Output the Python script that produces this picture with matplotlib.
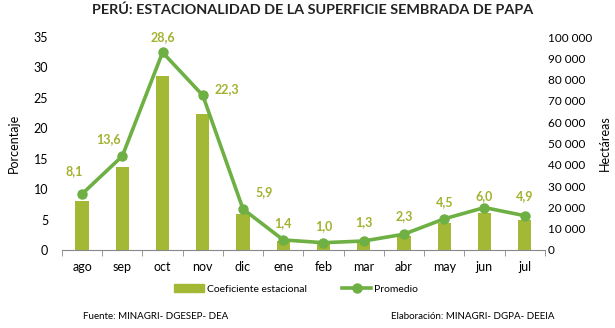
import matplotlib.pyplot as plt
import numpy as np
from matplotlib.lines import Line2D
from matplotlib.patches import Patch

plt.rcParams['font.family'] = ['Lato', 'DejaVu Sans']

meses = ['ago', 'sep', 'oct', 'nov', 'dic', 'ene', 'feb', 'mar', 'abr', 'may', 'jun', 'jul']
coeficiente = [8.1, 13.6, 28.6, 22.3, 5.9, 1.4, 1.0, 1.3, 2.3, 4.5, 6.0, 4.9]
promedio = [26300, 44100, 92800, 72600, 19200, 4700, 3400, 4200, 7400, 14600, 19900, 16100]
ticks_izq = [0, 5, 10, 15, 20, 25, 30, 35]
ticks_der = [0, 10000, 20000, 30000, 40000, 50000, 60000, 70000, 80000, 90000, 100000]

# desplazamiento (puntos) de cada etiqueta respecto al punto de la linea
offsets = [(-6, 12), (-10, 8), (0, 7), (17, 0), (15, 8), (0, 8),
           (0, 8), (0, 9), (0, 9), (0, 8), (0, 4), (0, 10)]

c_barra = '#a3b935'
c_linea = '#6eb043'
c_texto = '#a3b12f'

fig = plt.figure(figsize=(6.15, 3.28), dpi=100)
ax = fig.add_axes([0.1008, 0.238, 0.785, 0.649])
x = np.arange(len(meses))

ax.bar(x, coeficiente, width=0.33, color=c_barra, zorder=2)
ax.set_xlim(-0.5, len(meses) - 0.5)
ax.set_ylim(0, 35)
ax.set_yticks(ticks_izq)
ax.set_xticks(x)
ax.set_xticklabels(meses)
ax.set_xticks(np.arange(-0.5, len(meses)), minor=True)
ax.tick_params(axis='x', which='major', length=0, pad=8, labelsize=9)
ax.tick_params(axis='x', which='minor', length=4, color='#888888')
ax.tick_params(axis='y', length=0, pad=10, labelsize=9)
for s in ['top', 'right', 'left']:
    ax.spines[s].set_visible(False)
ax.spines['bottom'].set_color('#888888')
ax.set_ylabel('Porcentaje', fontsize=9)
ax.yaxis.set_label_coords(-0.088, 0.5)

ax2 = ax.twinx()
ax2.plot(x, promedio, color=c_linea, lw=2.6, marker='o', ms=6.5, zorder=3)
ax2.set_ylim(0, 100000)
ax2.set_yticks(ticks_der)
ax2.set_yticklabels([f'{v:,}'.replace(',', ' ') for v in ticks_der])
ax2.tick_params(axis='y', length=0, pad=2, labelsize=8.5)
for s in ['top', 'right', 'left', 'bottom']:
    ax2.spines[s].set_visible(False)
ax2.set_ylabel('Hectáreas', fontsize=9)
ax2.yaxis.set_label_coords(1.112, 0.5)

for xi, p, c, off in zip(x, promedio, coeficiente, offsets):
    ax2.annotate(f'{c:.1f}'.replace('.', ','), (xi, p), xytext=off,
                 textcoords='offset points', ha='center', va='bottom',
                 fontsize=9, fontweight='bold', color=c_texto)

fig.text(0.508, 0.97, 'PERÚ: ESTACIONALIDAD DE LA SUPERFICIE SEMBRADA DE PAPA',
         ha='center', va='center', fontsize=10.4, fontweight='bold', color='#222222')

handles = [Patch(color=c_barra, label='Coeficiente estacional'),
           Line2D([], [], color=c_linea, lw=2.6, marker='o', ms=6.5, label='Promedio')]
fig.legend(handles=handles, loc='center', bbox_to_anchor=(0.482, 0.119), ncol=2,
           frameon=False, fontsize=7.5, handlelength=2.8, handletextpad=0.3,
           columnspacing=3.4)

fig.text(0.135, 0.034, 'Fuente: MINAGRI- DGESEP- DEA', fontsize=7, va='center')
fig.text(0.9024, 0.034, 'Elaboración: MINAGRI- DGPA- DEEIA', fontsize=7,
         va='center', ha='right')

fig.savefig('out.png', dpi=100)
